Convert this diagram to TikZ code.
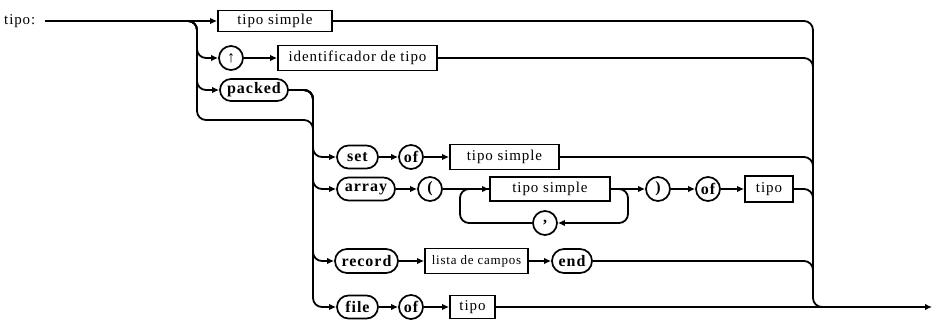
\documentclass[tikz,border=0pt]{standalone}
\usepackage{fontspec}
\setmainfont{Liberation Serif}[LetterSpace=6]
\usetikzlibrary{arrows.meta,shapes.misc,calc}
\begin{document}
\begin{tikzpicture}[x=1pt,y=-1pt,
  font=\fontsize{15}{17}\selectfont,
  line/.style={line width=1.8pt},
  flow/.style={line,-{Latex[length=7pt,width=6.5pt]}},
  rbend/.style={rounded corners=9pt},
  kw/.style={font=\fontsize{16}{18}\selectfont\bfseries},
  term/.style={draw,line width=1.7pt,rounded rectangle,minimum height=22pt,
    inner xsep=0pt,inner ysep=1pt,kw},
  sym/.style={draw,circle,line width=1.7pt,minimum size=24pt,inner sep=0pt,kw},
  nterm/.style={draw,rectangle,line width=1.7pt,minimum height=22pt,inner sep=1pt}]
\useasboundingbox (0,0) rectangle (933,320);

% junction points of the buses
\coordinate (start) at (45,21);
\coordinate (split) at (180,21);
\coordinate (lb) at (197,0);
\coordinate (ib) at (313,0);
\coordinate (eb) at (813,0);
\coordinate (byp) at (0,120);
\coordinate (mj) at (813,290);
\coordinate (fin0) at (900,307);
\coordinate (fin) at (932,307);
\coordinate (lr) at (628,0);
\coordinate (ll) at (460,0);

% label
\node[anchor=west,inner sep=0pt] (lbl) at (4,21) {tipo:};

% first level alternatives
\node[nterm,minimum width=114pt,minimum height=21pt] (ts1) at (275,21) {tipo simple};
\node[sym] (up) at (231,58) {↑};
\node[nterm,minimum width=159pt,minimum height=25pt] (id) at (357.5,58) {identificador de tipo};
\node[term,minimum width=68pt,minimum height=22pt] (packed) at (254,90) {packed};

% structured types
\node[term,minimum width=41pt,minimum height=23pt] (set) at (357.5,157) {set};
\node[sym] (of1) at (411,157) {of};
\node[nterm,minimum width=109pt,minimum height=25pt] (ts2) at (504.5,157) {tipo simple};

\node[term,minimum width=58pt,minimum height=23pt] (array) at (366,189) {array};
\node[sym] (lp) at (430,189) {(};
\node[nterm,minimum width=120pt,minimum height=24pt] (ts3) at (550,189) {tipo simple};
\node[sym] (comma) at (545,223) {,};
\node[sym] (rp) at (658,189) {)};
\node[sym] (of2) at (708,189) {of};
\node[nterm,minimum width=48pt,minimum height=26pt] (tipo1) at (769,189) {tipo};

\node[term,minimum width=63pt,minimum height=24pt] (record) at (366.5,261) {record};
\node[nterm,minimum width=103pt,minimum height=25pt,font=\fontsize{13}{15}\selectfont] (lista) at (476.5,261) {lista de campos};
\node[term,minimum width=40pt,minimum height=24pt] (end) at (572,261) {end};

\node[term,minimum width=41pt,minimum height=23pt] (file) at (357.5,307) {file};
\node[sym] (of3) at (411,307) {of};
\node[nterm,minimum width=45pt,minimum height=23pt] (tipo2) at (472.5,307) {tipo};

% entry and first split
\draw[flow] (start) -- (ts1);
\draw[flow,rbend] (split) -| (lb |- up) -- (up);
\draw[flow,rbend] (split) -| (lb |- packed) -- (packed);
\draw[line,rbend] (split) -| (lb |- byp) -| (ib |- set);
\draw[flow] (up) -- (id);

% second split after optional packed
\draw[flow,rbend] (packed) -| (ib |- set) -- (set);
\draw[flow,rbend] (packed) -| (ib |- array) -- (array);
\draw[flow,rbend] (packed) -| (ib |- record) -- (record);
\draw[flow,rbend] (packed) -| (ib |- file) -- (file);

% set
\draw[flow] (set) -- (of1);
\draw[flow] (of1) -- (ts2);

% array
\draw[flow] (array) -- (lp);
\draw[flow] (lp) -- (ts3);
\draw[flow] (ts3) -- (rp);
\draw[flow] (rp) -- (of2);
\draw[flow] (of2) -- (tipo1);
\draw[flow,rbend] (ts3) -| (lr |- comma) -- (comma);
\draw[line,rbend] (comma) -| (ll |- ts3) -- (ts3);

% record
\draw[flow] (record) -- (lista);
\draw[flow] (lista) -- (end);

% file
\draw[flow] (file) -- (of3);
\draw[flow] (of3) -- (tipo2);
\draw[flow] (tipo2) -- (fin);

% exit bus
\draw[line,rbend] (ts1) -| (eb |- fin) -- (fin0);
\draw[line,rbend] (id) -| (mj);
\draw[line,rbend] (ts2) -| (mj);
\draw[line,rbend] (tipo1) -| (mj);
\draw[line,rbend] (end) -| (mj);
\end{tikzpicture}
\end{document}
